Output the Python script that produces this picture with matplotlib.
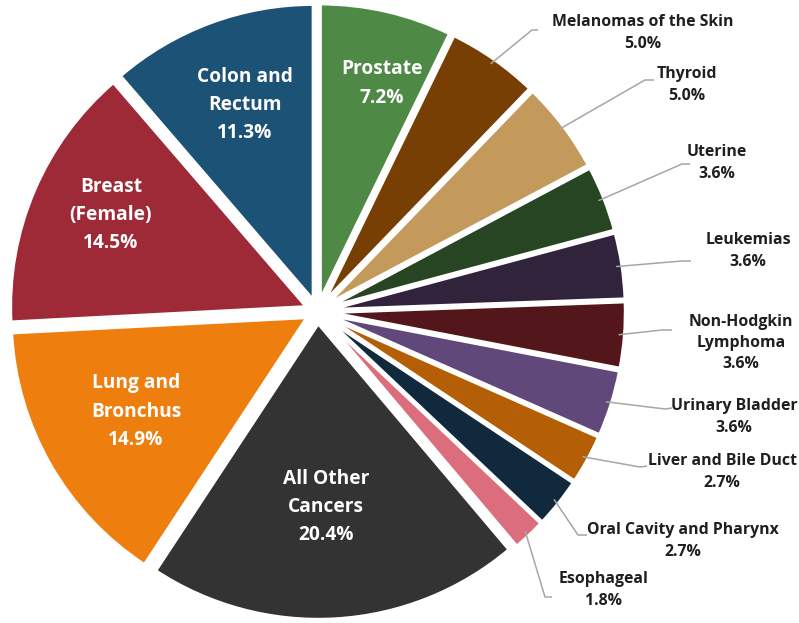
import numpy as np
import matplotlib
matplotlib.use("Agg")
import matplotlib.pyplot as plt

# ---- data ----
names = ["Prostate", "Melanomas of the Skin", "Thyroid", "Uterine", "Leukemias",
         "Non-Hodgkin\nLymphoma", "Urinary Bladder", "Liver and Bile Duct",
         "Oral Cavity and Pharynx", "Esophageal", "All Other\nCancers",
         "Lung and\nBronchus", "Breast\n(Female)", "Colon and\nRectum"]
values = [7.2, 5.0, 5.0, 3.6, 3.6, 3.6, 3.6, 2.7, 2.7, 1.8, 20.4, 14.9, 14.5, 11.3]
colors = ["#4E8A45", "#773F04", "#C49A5C", "#274423", "#31233C", "#52161B",
          "#60487A", "#B45F06", "#11293D", "#DC6D7D", "#333333", "#EE7E0E",
          "#9E2A37", "#1D5277"]
inside = [True, False, False, False, False, False, False, False, False, False,
          True, True, True, True]

# ---- layout (pixel coordinates, y from top) ----
W, H = 799, 623
CX, CY = 317.5, 311.5
R = 296
EXPL = 12
inside_dist = [0.76, 0, 0, 0, 0, 0, 0, 0, 0, 0, 0.62, 0.66, 0.73, 0.70]
inside_rot = [-3, 0, 0, 0, 0, 0, 0, 0, 0, 0, -1, -1, -2, -1]
# outside label: (text center x, text center y, elbow x, elbow y, end x, end y)
outside_layout = {
    1: (643, 33, 532, 30, 538, 30),
    2: (687, 85, 645, 80, 654, 80),
    3: (717, 163, 682, 164, 690, 164),
    4: (748, 251, 682, 261, 691, 261),
    5: (741, 343, 662, 330, 672, 330),
    6: (734, 417, 665, 409, 672, 408),
    7: (722, 472, 640, 467, 647, 466),
    8: (683, 541, 578, 535, 587, 535),
    9: (604, 590, 545, 597, 552, 597),
}

fig = plt.figure(figsize=(W / 100, H / 100), dpi=100)
ax = fig.add_axes([0, 0, 1, 1])
ax.set_xlim(0, W)
ax.set_ylim(0, H)
ax.axis("off")

wedges, _ = ax.pie(values, colors=colors, startangle=90, counterclock=False,
                   center=(CX, H - CY), radius=R, explode=[EXPL] * len(values),
                   wedgeprops=dict(edgecolor="white", linewidth=2.4))
ax.set_xlim(0, W)
ax.set_ylim(0, H)
ax.set_aspect("equal")

font = ["Open Sans", "DejaVu Sans"]
for i, w in enumerate(wedges):
    th = np.deg2rad((w.theta1 + w.theta2) / 2 + inside_rot[i])
    wc = w.center
    pct = f"{values[i]:.1f}%"
    if inside[i]:
        d = inside_dist[i] * R
        x = wc[0] + d * np.cos(th)
        y = wc[1] + d * np.sin(th)
        ax.text(x, y, names[i] + "\n" + pct, ha="center", va="center",
                color="white", fontsize=13.8, fontweight="bold", family=font,
                linespacing=1.55)
    else:
        tx, ty, ex, ey, nx, ny = outside_layout[i]
        sx = wc[0] + (R - 6) * np.cos(th)
        sy = wc[1] + (R - 6) * np.sin(th)
        ax.plot([sx, ex, nx], [sy, H - ey, H - ny], color="#A6A6A6", lw=1.1,
                solid_capstyle="butt")
        ax.text(tx, H - ty, names[i] + "\n" + pct, ha="center", va="center",
                color="#1F1F1F", fontsize=11.4, fontweight="bold", family=font,
                linespacing=1.45)

fig.savefig("out.png", dpi=100, facecolor="white")
